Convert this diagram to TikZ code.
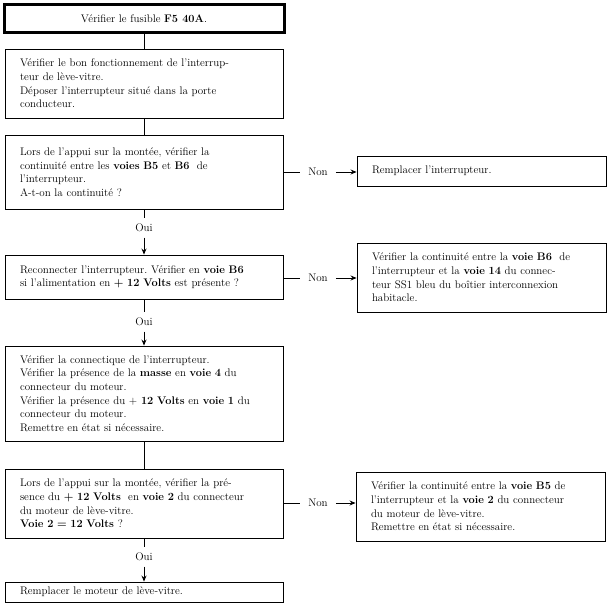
\documentclass[tikz,border=0pt]{standalone}
\usetikzlibrary{arrows.meta}
\frenchspacing
\begin{document}
\begin{tikzpicture}[x=1pt,y=-1pt,
  every node/.style={font=\fontsize{11}{13.6}\selectfont},
  lbox/.style={draw, line width=0.9pt, rectangle, text width=248pt, inner xsep=15pt, inner ysep=0pt, align=left, anchor=center},
  rbox/.style={draw, line width=0.9pt, rectangle, text width=219pt, inner xsep=15pt, inner ysep=0pt, align=left, anchor=center},
  topbox/.style={draw, line width=3pt, rectangle, minimum width=280pt, minimum height=28pt, inner sep=0pt, align=center},
  lab/.style={inner xsep=8pt, inner ysep=6pt, text height=7pt, text depth=0pt},
  link/.style={line width=0.8pt},
  arr/.style={line width=0.8pt, -{Stealth[length=6pt,width=5pt]}}
]
\useasboundingbox (0,0) rectangle (610,612);
\fill[white] (0,0) rectangle (610,612);

\node[topbox] (a) at (144,19) {V\'erifier le fusible \textbf{F5 40A}.};

\node[lbox, minimum height=69pt] (b) at (144,83.5) {V\'erifier le bon fonctionnement de l'interrup-\\teur de l\`eve-vitre.\\D\'eposer l'interrupteur situ\'e dans la porte\\conducteur.};

\node[lbox, minimum height=74pt] (c) at (144,172) {Lors de l'appui sur la mont\'ee, v\'erifier la\\continuit\'e entre les \textbf{voies B5} et \textbf{B6}\ \ de\\l'interrupteur.\\A-t-on la continuit\'e ?};

\node[rbox, minimum height=30pt] (d) at (481.5,171) {Remplacer l'interrupteur.};

\node[lbox, minimum height=44pt] (e) at (144,277) {Reconnecter l'interrupteur. V\'erifier en \textbf{voie B6}\\si l'alimentation en \textbf{+ 12 Volts} est pr\'esente ?};

\node[rbox, minimum height=69pt] (f) at (481.5,277.5) {V\'erifier la continuit\'e entre la \textbf{voie B6}\ \ de\\l'interrupteur et la \textbf{voie 14} du connec-\\teur SS1 bleu du bo\^itier interconnexion\\habitacle.};

\node[lbox, minimum height=95pt] (g) at (144,393.5) {V\'erifier la connectique de l'interrupteur.\\V\'erifier la pr\'esence de la \textbf{masse} en \textbf{voie 4} du\\connecteur du moteur.\\V\'erifier la pr\'esence du + \textbf{12 Volts} en \textbf{voie 1} du\\connecteur du moteur.\\Remettre en \'etat si n\'ecessaire.};

\node[lbox, minimum height=69pt] (h) at (144,503.5) {Lors de l'appui sur la mont\'ee, v\'erifier la pr\'e-\\sence du \textbf{+ 12 Volts}\ \ en \textbf{voie 2} du connecteur\\du moteur de l\`eve-vitre.\\\textbf{Voie 2 = 12 Volts} ?};

\node[rbox, minimum height=69pt] (i) at (480.5,506.5) {V\'erifier la continuit\'e entre la \textbf{voie B5} de\\l'interrupteur et la \textbf{voie 2} du connecteur\\du moteur de l\`eve-vitre.\\Remettre en \'etat si n\'ecessaire.};

\node[lbox, minimum height=20pt] (j) at (144,592) {Remplacer le moteur de l\`eve-vitre.};

% labels
\node[lab] (non1) at (318,172) {Non};
\node[lab] (non2) at (318,278) {Non};
\node[lab] (non3) at (318,503) {Non};
\node[lab] (oui1) at (144,228) {Oui};
\node[lab] (oui2) at (144,322) {Oui};
\node[lab] (oui3) at (144,557) {Oui};

% connectors
\draw[link] (a.south) -- (b.north);
\draw[link] (b.south) -- (c.north);
\draw[link] (c.south) -- (oui1.north);
\draw[arr] (oui1.south) -- (e.north);
\draw[link] (e.south) -- (oui2.north);
\draw[arr] (oui2.south) -- (g.north);
\draw[link] (g.south) -- (h.north);
\draw[link] (h.south) -- (oui3.north);
\draw[arr] (oui3.south) -- (j.north);

\draw[link] (c.east |- non1) -- (non1.west);
\draw[arr] (non1.east) -- (non1.east -| d.west);
\draw[link] (e.east |- non2) -- (non2.west);
\draw[arr] (non2.east) -- (non2.east -| f.west);
\draw[link] (h.east |- non3) -- (non3.west);
\draw[arr] (non3.east) -- (non3.east -| i.west);
\end{tikzpicture}
\end{document}
